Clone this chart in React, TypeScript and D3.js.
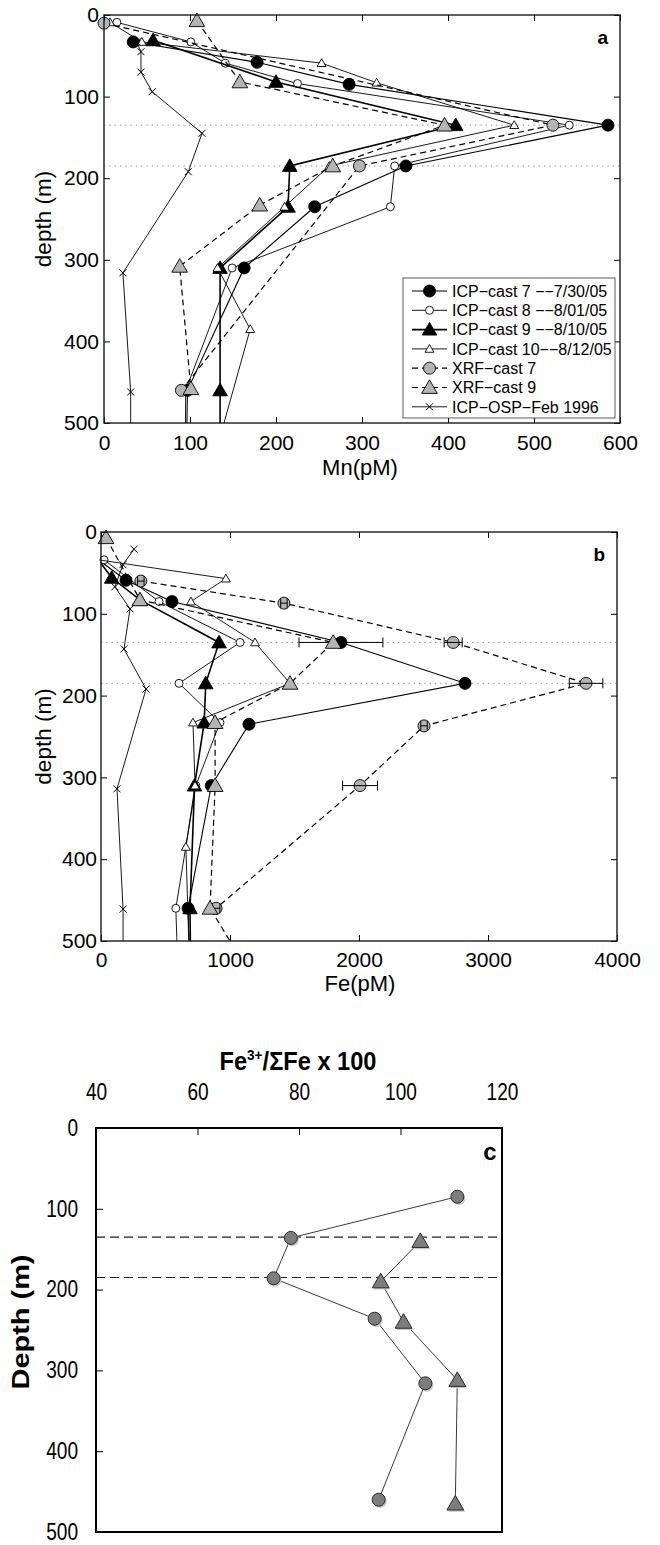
import React, { useEffect, useRef } from "react";
import * as d3 from "d3";

// depths (m) of the reference lines drawn across every panel
const refDepths = [135, 185];

const depthTicks = [0, 100, 200, 300, 400, 500];
const mnTicks = [0, 100, 200, 300, 400, 500, 600];
const feTicks = [0, 1000, 2000, 3000, 4000];
const ratioTicks = [40, 60, 80, 100, 120];

// Mn (pM) profiles, [value, depth m]
const mnCast7 = [[34, 33], [178, 58], [285, 85], [586, 135], [351, 185], [245, 235], [163, 310], [97, 460], [95, 600]];
const mnCast8 = [[15, 9], [101, 33], [141, 59], [225, 84], [541, 135], [338, 185], [333, 235], [149, 310], [95, 460], [94, 600]];
const mnCast9 = [[57, 31], [200, 82], [409, 135], [216, 185], [214, 235], [135, 310], [135, 460], [135, 600]];
const mnCast10 = [[7, 9], [44, 33], [253, 59], [317, 83], [477, 135], [262, 185], [210, 235], [132, 310], [170, 385], [113, 600]];
const mnXrf7 = [[0, 10], [522, 135], [297, 185], [90, 460]];
const mnXrf9 = [[108, 7], [158, 82], [396, 135], [266, 185], [181, 233], [88, 308], [101, 458]];
const mnOsp = [[38, 33], [43, 45], [43, 70], [56, 94], [114, 145], [98, 192], [22, 316], [31, 462], [31, 600]];

// Fe (pM) profiles, [value, depth m]
const feCast7 = [[-20, 34], [194, 59], [550, 85], [1860, 135], [2822, 185], [1147, 235], [855, 310], [675, 460], [705, 600]];
const feCast7Err = [0, 0, 0, 325, 0, 0, 0, 0, 0];
const feCast8 = [[23, 34], [450, 85], [1078, 135], [605, 185], [922, 233], [735, 310], [580, 460], [610, 600]];
const feCast9 = [[-20, 34], [83, 56], [302, 83], [915, 135], [812, 185], [800, 233], [725, 310], [690, 460], [700, 600]];
const feCast10 = [[-20, 34], [968, 57], [697, 85], [1194, 135], [1465, 185], [713, 233], [729, 310], [658, 385], [700, 600]];
const feXrf7 = [[309, 60], [1418, 87], [2730, 135], [3760, 185], [2504, 237], [2008, 310], [892, 460]];
const feXrf7Err = [25, 25, 70, 130, 25, 135, 30];
const feXrf9 = [[39, 7], [302, 83], [1800, 135], [1465, 185], [884, 233], [885, 310], [845, 460], [1000, 500]];
const feOsp = [[256, 21], [170, 40], [108, 67], [225, 94], [178, 143], [349, 192], [124, 314], [171, 461], [171, 600]];

// Fe3+/sum Fe x 100, [value, depth m]
const ratioCircles = [[111.2, 85], [78.4, 136], [75, 186], [94.9, 236], [104.9, 316], [95.7, 460]];
const ratioTriangles = [[103.9, 140], [96.1, 190], [100.6, 240], [111.2, 312], [110.8, 465]];

const seriesNames = [
  "ICP−cast 7 −−7/30/05",
  "ICP−cast 8 −−8/01/05",
  "ICP−cast 9 −−8/10/05",
  "ICP−cast 10−−8/12/05",
  "XRF−cast 7",
  "XRF−cast 9",
  "ICP−OSP−Feb 1996",
];

const styles = [
  { marker: "circle", size: 12, fill: "#000", dash: null, width: 1.1 },
  { marker: "circle", size: 8, fill: "#fff", dash: null, width: 0.9 },
  { marker: "triangle", size: 13, fill: "#000", dash: null, width: 1.6 },
  { marker: "triangle", size: 8, fill: "#fff", dash: null, width: 0.9 },
  { marker: "circle", size: 12, fill: "#b4b4b4", dash: "6,4", width: 1.2 },
  { marker: "triangle", size: 14, fill: "#b4b4b4", dash: "6,4", width: 1.2 },
  { marker: "x", size: 7, fill: "none", dash: null, width: 0.9 },
];

const font = "'Liberation Sans', Arial, Helvetica, sans-serif";

function triPath(cx, cy, s) {
  return `M${cx},${cy - 0.55 * s}L${cx + 0.56 * s},${cy + 0.42 * s}L${cx - 0.56 * s},${cy + 0.42 * s}Z`;
}

function drawMarker(g, st, cx, cy, stroke = "#000", sw = 0.9) {
  if (st.marker === "circle") {
    g.append("circle").attr("cx", cx).attr("cy", cy).attr("r", st.size / 2)
      .attr("fill", st.fill).attr("stroke", stroke).attr("stroke-width", sw);
  } else if (st.marker === "triangle") {
    g.append("path").attr("d", triPath(cx, cy, st.size))
      .attr("fill", st.fill).attr("stroke", stroke).attr("stroke-width", sw).attr("stroke-linejoin", "miter");
  } else {
    const h = st.size / 2;
    g.append("path").attr("d", `M${cx - h},${cy - h}L${cx + h},${cy + h}M${cx + h},${cy - h}L${cx - h},${cy + h}`)
      .attr("stroke", stroke).attr("stroke-width", 1).attr("fill", "none");
  }
}

function styleAxis(sel, size) {
  sel.select(".domain").remove();
  sel.attr("font-size", size).attr("font-family", font);
  sel.selectAll("line").attr("stroke", "#000").attr("stroke-width", 1);
  sel.selectAll("text").attr("fill", "#000");
}

function profilePanel(svg, o) {
  const x = o.x, y = o.y;
  const [xl, xr] = x.range();
  const [yt, yb] = y.range();
  const g = svg.append("g");

  svg.append("defs").append("clipPath").attr("id", o.clipId)
    .append("rect").attr("x", xl).attr("y", yt).attr("width", xr - xl).attr("height", yb - yt);

  g.selectAll(".ref").data(refDepths).join("line").attr("class", "ref")
    .attr("x1", xl).attr("x2", xr).attr("y1", d => y(d)).attr("y2", d => y(d))
    .attr("stroke", "#8c8c8c").attr("stroke-width", 1).attr("stroke-dasharray", "1.3,4");

  const line = d3.line().x(d => x(d[0])).y(d => y(d[1]));
  o.series.forEach((pts, i) => {
    const st = styles[i];
    const sg = g.append("g");
    sg.append("path").attr("d", line(pts)).attr("fill", "none")
      .attr("stroke", "#000").attr("stroke-width", st.width)
      .attr("stroke-dasharray", st.dash).attr("clip-path", `url(#${o.clipId})`);
    const err = o.errors[i];
    pts.forEach((d, j) => {
      // points outside the axes keep their line but lose their marker
      if (d[1] >= 500 || d[0] < 0) return;
      drawMarker(sg, st, x(d[0]), y(d[1]));
      if (err && err[j]) {
        const a = x(d[0] - err[j]), b = x(d[0] + err[j]), cy = y(d[1]);
        sg.append("path").attr("d", `M${a},${cy}H${b}M${a},${cy - 5}V${cy + 5}M${b},${cy - 5}V${cy + 5}`)
          .attr("stroke", "#000").attr("stroke-width", 1).attr("fill", "none");
      }
    });
  });

  // axes with inward ticks on all four sides
  g.append("g").attr("transform", `translate(0,${yb})`)
    .call(d3.axisBottom(x).tickValues(o.xTicks).tickSize(-6).tickSizeOuter(0).tickPadding(o.padB).tickFormat(d3.format("d")))
    .call(s => styleAxis(s, 21));
  g.append("g").attr("transform", `translate(0,${yt})`)
    .call(d3.axisTop(x).tickValues(o.xTicks).tickSize(-6).tickSizeOuter(0).tickFormat(() => ""))
    .call(s => styleAxis(s, 21));
  g.append("g").attr("transform", `translate(${xl},0)`)
    .call(d3.axisLeft(y).tickValues(depthTicks).tickSize(-6).tickSizeOuter(0).tickPadding(o.padL))
    .call(s => styleAxis(s, 21));
  g.append("g").attr("transform", `translate(${xr},0)`)
    .call(d3.axisRight(y).tickValues(depthTicks).tickSize(-6).tickSizeOuter(0).tickFormat(() => ""))
    .call(s => styleAxis(s, 21));

  g.append("rect").attr("x", xl).attr("y", yt).attr("width", xr - xl).attr("height", yb - yt)
    .attr("fill", "none").attr("stroke", "#1a1a1a").attr("stroke-width", 1.4);

  g.append("text").attr("x", 360).attr("y", o.labelY).attr("text-anchor", "middle")
    .attr("font-family", font).attr("font-size", 22).text(o.xLabel);
  g.append("text").attr("transform", `translate(51,${(yt + yb) / 2}) rotate(-90)`).attr("text-anchor", "middle")
    .attr("font-family", font).attr("font-size", 22.5).text("depth (m)");
  g.append("text").attr("x", xr - 12).attr("y", yt + 29).attr("text-anchor", "end")
    .attr("font-family", font).attr("font-weight", "bold").attr("font-size", 19).text(o.letter);

  if (o.legend) {
    const lg = g.append("g");
    lg.append("rect").attr("x", 403).attr("y", 278).attr("width", 212).attr("height", 140)
      .attr("fill", "#fff").attr("stroke", "#333").attr("stroke-width", 0.8);
    seriesNames.forEach((name, i) => {
      const st = styles[i];
      const cy = 291 + i * 19.3;
      lg.append("line").attr("x1", 412).attr("x2", 447).attr("y1", cy).attr("y2", cy)
        .attr("stroke", "#000").attr("stroke-width", st.width).attr("stroke-dasharray", st.dash);
      drawMarker(lg, st, 429.5, cy);
      lg.append("text").attr("x", 452).attr("y", cy).attr("dy", "0.36em")
        .attr("font-family", font).attr("font-size", 16).text(name);
    });
  }
}

// squeeze the tick digits to the narrow face used in panel c
function narrowTicks(sel) {
  sel.selectAll("text").each(function (d) {
    d3.select(this).attr("textLength", String(d).length * 10.6).attr("lengthAdjust", "spacingAndGlyphs");
  });
}

function ratioPanel(svg) {
  const x = d3.scaleLinear().domain([40, 120]).range([96, 502]);
  const y = d3.scaleLinear().domain([0, 500]).range([1128, 1532]);
  const g = svg.append("g");

  g.selectAll(".refc").data(refDepths).join("line").attr("class", "refc")
    .attr("x1", 96).attr("x2", 502).attr("y1", d => y(d)).attr("y2", d => y(d))
    .attr("stroke", "#222").attr("stroke-width", 1.1).attr("stroke-dasharray", "9,5");

  const line = d3.line().x(d => x(d[0])).y(d => y(d[1]));
  [ratioCircles, ratioTriangles].forEach((pts, i) => {
    g.append("path").attr("d", line(pts)).attr("fill", "none").attr("stroke", "#3c3c3c").attr("stroke-width", 1);
    const st = i === 0 ? { marker: "circle", size: 13, fill: "#7d7d7d" } : { marker: "triangle", size: 15, fill: "#7d7d7d" };
    const shadow = { ...st, fill: "#c8c8c8" };
    pts.forEach(d => {
      drawMarker(g, shadow, x(d[0]) + 1.5, y(d[1]) + 1.8, "none", 0);
      drawMarker(g, st, x(d[0]), y(d[1]), "#2a2a2a", 1);
    });
  });

  g.append("g").attr("transform", "translate(0,1128)")
    .call(d3.axisTop(x).tickValues(ratioTicks).tickSize(-7).tickSizeOuter(0).tickPadding(28))
    .call(s => styleAxis(s, 23)).call(narrowTicks);
  g.append("g").attr("transform", "translate(96,0)")
    .call(d3.axisLeft(y).tickValues(depthTicks).tickSize(-7).tickSizeOuter(0).tickPadding(18))
    .call(s => styleAxis(s, 23)).call(narrowTicks);

  g.append("rect").attr("x", 96).attr("y", 1128).attr("width", 406).attr("height", 404)
    .attr("fill", "none").attr("stroke", "#000").attr("stroke-width", 2);

  const title = g.append("text").attr("x", 298).attr("y", 1070).attr("text-anchor", "middle")
    .attr("font-family", font).attr("font-weight", "bold").attr("font-size", 26)
    .attr("textLength", 157).attr("lengthAdjust", "spacingAndGlyphs");
  title.append("tspan").text("Fe");
  title.append("tspan").attr("dy", -10).attr("font-size", 15).text("3+");
  title.append("tspan").attr("dy", 10).text("/ΣFe x 100");

  g.append("text").attr("transform", "translate(29,1322) rotate(-90)").attr("text-anchor", "middle")
    .attr("font-family", font).attr("font-weight", "bold").attr("font-size", 23)
    .attr("textLength", 135).attr("lengthAdjust", "spacingAndGlyphs").text("Depth (m)");
  g.append("text").attr("x", 490).attr("y", 1160).attr("text-anchor", "middle")
    .attr("font-family", font).attr("font-weight", "bold").attr("font-size", 24).text("c");
}

export default function App() {
  const ref = useRef(null);

  useEffect(() => {
    const svg = d3.select(ref.current);
    svg.selectAll("*").remove();

    profilePanel(svg, {
      x: d3.scaleLinear().domain([0, 600]).range([104, 620]),
      y: d3.scaleLinear().domain([0, 500]).range([15, 423]),
      xTicks: mnTicks,
      series: [mnCast7, mnCast8, mnCast9, mnCast10, mnXrf7, mnXrf9, mnOsp],
      errors: [],
      clipId: "clipA",
      padB: 12,
      padL: 5,
      labelY: 475,
      xLabel: "Mn(pM)",
      letter: "a",
      legend: true,
    });

    profilePanel(svg, {
      x: d3.scaleLinear().domain([0, 4000]).range([101, 617]),
      y: d3.scaleLinear().domain([0, 500]).range([532, 941]),
      xTicks: feTicks,
      series: [feCast7, feCast8, feCast9, feCast10, feXrf7, feXrf9, feOsp],
      errors: [feCast7Err, null, null, null, feXrf7Err, null, null],
      clipId: "clipB",
      padB: 11,
      padL: 4,
      labelY: 991,
      xLabel: "Fe(pM)",
      letter: "b",
      legend: false,
    });

    ratioPanel(svg);
  }, []);

  return (
    <svg ref={ref} width={660} height={1545}
      style={{ position: "absolute", left: 0, top: 0, background: "#fff" }} />
  );
}
